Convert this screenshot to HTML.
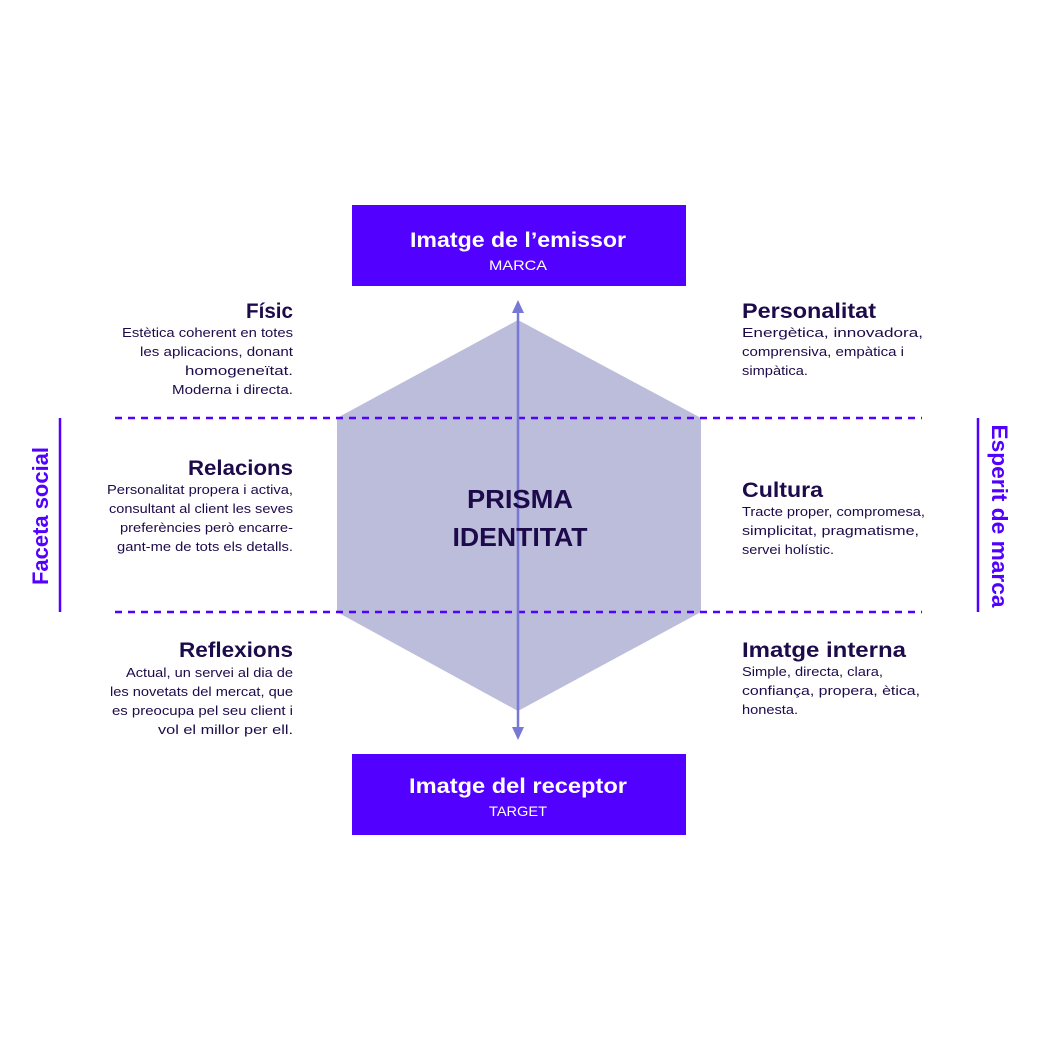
<!DOCTYPE html>
<html><head><meta charset="utf-8"><style>html,body{margin:0;padding:0;background:#fff}svg{display:block}</style></head><body>
<svg width="1042" height="1042" viewBox="0 0 1042 1042" xmlns="http://www.w3.org/2000/svg" font-family="Liberation Sans, sans-serif">
<rect width="1042" height="1042" fill="#fff"/>
<polygon points="518,320 701,418 701,612 518,711 337,612 337,418" fill="#bcbcdb"/>
<line x1="115" y1="418" x2="922" y2="418" stroke="#5200ff" stroke-width="2.5" stroke-dasharray="7,6"/>
<line x1="115" y1="612" x2="922" y2="612" stroke="#5200ff" stroke-width="2.5" stroke-dasharray="7,6"/>
<line x1="518" y1="312" x2="518" y2="728" stroke="#7878d6" stroke-width="2.5"/>
<polygon points="518,300 512,313 524,313" fill="#7878d6"/>
<polygon points="518,740 512,727 524,727" fill="#7878d6"/>
<line x1="60" y1="418" x2="60" y2="612" stroke="#5200ff" stroke-width="2.5"/>
<line x1="978" y1="418" x2="978" y2="612" stroke="#5200ff" stroke-width="2.5"/>
<rect x="352" y="205" width="334" height="81" fill="#5200ff"/>
<rect x="352" y="754" width="334" height="81" fill="#5200ff"/>
<g fill="#fff" text-anchor="middle">
<text x="518" y="247" font-size="21" font-weight="bold" textLength="216" lengthAdjust="spacingAndGlyphs">Imatge de l’emissor</text>
<text x="518" y="270" font-size="14" textLength="58" lengthAdjust="spacingAndGlyphs">MARCA</text>
<text x="518" y="793" font-size="21" font-weight="bold" textLength="218" lengthAdjust="spacingAndGlyphs">Imatge del receptor</text>
<text x="518" y="816" font-size="14" textLength="58" lengthAdjust="spacingAndGlyphs">TARGET</text>
</g>
<g fill="#1d0a4a" text-anchor="middle" font-weight="bold" font-size="26">
<text x="520" y="508" textLength="106" lengthAdjust="spacingAndGlyphs">PRISMA</text>
<text x="520" y="546" textLength="135" lengthAdjust="spacingAndGlyphs">IDENTITAT</text>
</g>
<g fill="#5200ff" font-weight="bold" font-size="22" text-anchor="middle">
<text transform="translate(48,516) rotate(-90)" textLength="138" lengthAdjust="spacingAndGlyphs">Faceta social</text>
<text transform="translate(992,516) rotate(90)" textLength="183" lengthAdjust="spacingAndGlyphs">Esperit de marca</text>
</g>
<g fill="#1d0a4a" text-anchor="end">
<text x="293" y="318" font-size="21" font-weight="bold" textLength="47" lengthAdjust="spacingAndGlyphs">Físic</text>
<text x="293" y="337" font-size="13" textLength="171" lengthAdjust="spacingAndGlyphs">Estètica coherent en totes</text>
<text x="293" y="356" font-size="13" textLength="153" lengthAdjust="spacingAndGlyphs">les aplicacions, donant</text>
<text x="293" y="375" font-size="13" textLength="108" lengthAdjust="spacingAndGlyphs">homogeneïtat.</text>
<text x="293" y="394" font-size="13" textLength="121" lengthAdjust="spacingAndGlyphs">Moderna i directa.</text>
<text x="293" y="475" font-size="21" font-weight="bold" textLength="105" lengthAdjust="spacingAndGlyphs">Relacions</text>
<text x="293" y="494" font-size="13" textLength="186" lengthAdjust="spacingAndGlyphs">Personalitat propera i activa,</text>
<text x="293" y="513" font-size="13" textLength="184" lengthAdjust="spacingAndGlyphs">consultant al client les seves</text>
<text x="293" y="532" font-size="13" textLength="173" lengthAdjust="spacingAndGlyphs">preferències però encarre-</text>
<text x="293" y="551" font-size="13" textLength="176" lengthAdjust="spacingAndGlyphs">gant-me de tots els detalls.</text>
<text x="293" y="657" font-size="21" font-weight="bold" textLength="114" lengthAdjust="spacingAndGlyphs">Reflexions</text>
<text x="293" y="677" font-size="13" textLength="167" lengthAdjust="spacingAndGlyphs">Actual, un servei al dia de</text>
<text x="293" y="696" font-size="13" textLength="183" lengthAdjust="spacingAndGlyphs">les novetats del mercat, que</text>
<text x="293" y="715" font-size="13" textLength="181" lengthAdjust="spacingAndGlyphs">es preocupa pel seu client i</text>
<text x="293" y="734" font-size="13" textLength="135" lengthAdjust="spacingAndGlyphs">vol el millor per ell.</text>
</g>
<g fill="#1d0a4a">
<text x="742" y="318" font-size="21" font-weight="bold" textLength="134" lengthAdjust="spacingAndGlyphs">Personalitat</text>
<text x="742" y="337" font-size="13" textLength="181" lengthAdjust="spacingAndGlyphs">Energètica, innovadora,</text>
<text x="742" y="356" font-size="13" textLength="162" lengthAdjust="spacingAndGlyphs">comprensiva, empàtica i</text>
<text x="742" y="375" font-size="13" textLength="66" lengthAdjust="spacingAndGlyphs">simpàtica.</text>
<text x="742" y="497" font-size="21" font-weight="bold" textLength="81" lengthAdjust="spacingAndGlyphs">Cultura</text>
<text x="742" y="516" font-size="13" textLength="183" lengthAdjust="spacingAndGlyphs">Tracte proper, compromesa,</text>
<text x="742" y="535" font-size="13" textLength="177" lengthAdjust="spacingAndGlyphs">simplicitat, pragmatisme,</text>
<text x="742" y="554" font-size="13" textLength="92" lengthAdjust="spacingAndGlyphs">servei holístic.</text>
<text x="742" y="657" font-size="21" font-weight="bold" textLength="164" lengthAdjust="spacingAndGlyphs">Imatge interna</text>
<text x="742" y="676" font-size="13" textLength="141" lengthAdjust="spacingAndGlyphs">Simple, directa, clara,</text>
<text x="742" y="695" font-size="13" textLength="178" lengthAdjust="spacingAndGlyphs">confiança, propera, ètica,</text>
<text x="742" y="714" font-size="13" textLength="56" lengthAdjust="spacingAndGlyphs">honesta.</text>
</g>
</svg>
</body></html>
